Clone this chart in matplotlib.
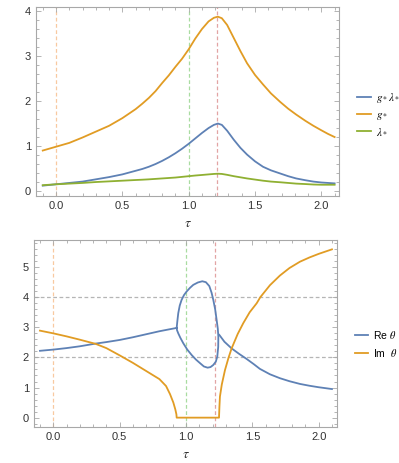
import matplotlib
matplotlib.use('Agg')
import matplotlib.pyplot as plt
from matplotlib.ticker import MultipleLocator

# top panel: fixed point couplings vs tau
tau_top = [-0.1, 0.0, 0.1, 0.2, 0.3, 0.4, 0.5, 0.6, 0.65, 0.7, 0.75, 0.8, 0.85, 0.9, 0.95, 1.0, 1.05, 1.1, 1.15, 1.19,
           1.22, 1.25, 1.29, 1.34, 1.39, 1.44, 1.5, 1.56, 1.62, 1.69, 1.75, 1.81, 1.88, 1.94, 2.0, 2.05, 2.1]
g_star = [0.90, 0.985, 1.07, 1.19, 1.32, 1.45, 1.62, 1.82, 1.94, 2.07, 2.22, 2.40, 2.57, 2.76, 2.94, 3.15, 3.39, 3.60, 3.77, 3.85,
          3.875, 3.84, 3.69, 3.40, 3.11, 2.84, 2.58, 2.37, 2.17, 1.98, 1.83, 1.70, 1.56, 1.45, 1.35, 1.27, 1.20]
gl_star = [0.12, 0.15, 0.18, 0.21, 0.26, 0.31, 0.37, 0.45, 0.49, 0.54, 0.60, 0.67, 0.75, 0.84, 0.94, 1.05, 1.17, 1.29, 1.40, 1.47,
           1.50, 1.47, 1.34, 1.14, 0.96, 0.81, 0.66, 0.54, 0.46, 0.39, 0.33, 0.28, 0.24, 0.21, 0.19, 0.18, 0.17]
l_star = [0.13, 0.15, 0.165, 0.18, 0.20, 0.215, 0.23, 0.245, 0.252, 0.26, 0.27, 0.28, 0.29, 0.30, 0.315, 0.33, 0.345, 0.357, 0.37, 0.38,
          0.385, 0.38, 0.36, 0.33, 0.305, 0.28, 0.255, 0.23, 0.21, 0.195, 0.18, 0.165, 0.155, 0.145, 0.14, 0.14, 0.14]

# bottom panel: theta
re_left_x = [-0.1, 0.0, 0.1, 0.2, 0.32, 0.4, 0.5, 0.6, 0.7, 0.8, 0.87, 0.93]
re_left_y = [2.22, 2.26, 2.31, 2.37, 2.46, 2.51, 2.58, 2.67, 2.77, 2.87, 2.93, 2.98]
loop_x = [0.93, 0.935, 0.942, 0.953, 0.967, 0.985, 1.005, 1.03, 1.055, 1.09, 1.123, 1.15, 1.176, 1.193, 1.206,
          1.22, 1.231, 1.24, 1.244, 1.243, 1.236, 1.225, 1.206, 1.185, 1.163, 1.135, 1.106, 1.075, 1.043, 1.01,
          0.98, 0.958, 0.942, 0.933, 0.93]
loop_y = [2.98, 3.2, 3.47, 3.72, 3.91, 4.07, 4.19, 4.31, 4.41, 4.49, 4.53, 4.50, 4.37, 4.15, 3.91,
          3.6, 3.25, 2.95, 2.69, 2.35, 2.03, 1.86, 1.75, 1.68, 1.66, 1.70, 1.81, 1.93, 2.08, 2.26,
          2.47, 2.65, 2.80, 2.90, 2.98]
re_right_x = [1.251, 1.29, 1.344, 1.40, 1.457, 1.51, 1.557, 1.633, 1.708, 1.78, 1.859, 1.93, 2.0, 2.1]
re_right_y = [2.75, 2.52, 2.30, 2.12, 1.95, 1.78, 1.62, 1.44, 1.31, 1.21, 1.12, 1.06, 1.01, 0.95]

im_x = [-0.1, 0.0, 0.1, 0.2, 0.32, 0.4, 0.5, 0.6, 0.7, 0.8, 0.85, 0.88, 0.905, 0.92, 0.928, 0.93,
        1.249, 1.252, 1.256, 1.27, 1.294, 1.32, 1.344, 1.39, 1.432, 1.48, 1.533, 1.56, 1.633, 1.708,
        1.78, 1.859, 1.93, 2.0, 2.1]
im_y = [2.89, 2.80, 2.70, 2.59, 2.45, 2.31, 2.07, 1.82, 1.55, 1.28, 1.05, 0.78, 0.50, 0.27, 0.11, 0.0,
        0.0, 0.35, 0.70, 1.10, 1.58, 1.98, 2.30, 2.78, 3.14, 3.50, 3.80, 4.0, 4.40, 4.72,
        4.97, 5.18, 5.32, 5.44, 5.59]

tau_marks = [0.0, 1.0, 1.2165]
mark_colors = ['#f8c9a0', '#a9dca0', '#e2a4a4']
theta_grid = [2, 4]

BLUE = '#5e81b5'
ORANGE = '#e19c24'
GREEN = '#8fb032'
FRAME = '#a8a8a8'

plt.rcParams['mathtext.fontset'] = 'stix'
plt.rcParams['font.family'] = 'Liberation Sans'

fig = plt.figure(figsize=(3.99, 4.63), dpi=100)
ax1 = fig.add_axes([0.0902, 0.5767, 0.7594, 0.4082])
ax2 = fig.add_axes([0.0852, 0.0778, 0.7594, 0.4038])


def style(ax):
    for s in ax.spines.values():
        s.set_color(FRAME)
        s.set_linewidth(0.8)
    ax.tick_params(which='both', direction='in', top=True, right=True, colors=FRAME,
                   labelcolor='#333333', labelsize=8, width=0.6)
    ax.tick_params(which='major', length=3.5)
    ax.tick_params(which='minor', length=2)
    ax.xaxis.set_major_locator(MultipleLocator(0.5))
    ax.xaxis.set_minor_locator(MultipleLocator(0.1))
    ax.yaxis.set_major_locator(MultipleLocator(1))
    ax.yaxis.set_minor_locator(MultipleLocator(0.2))
    ax.xaxis.set_major_formatter(plt.FuncFormatter(lambda v, p: '%.1f' % v))
    ax.yaxis.set_major_formatter(plt.FuncFormatter(lambda v, p: '%d' % round(v)))
    for x, c in zip(tau_marks, mark_colors):
        ax.axvline(x, color=c, lw=0.9, ls=(0, (3, 2)), zorder=1)
    ax.set_xlabel(r'$\tau$', fontsize=10, color='#333333', labelpad=4)


style(ax1)
ax1.plot(tau_top, gl_star, color=BLUE, lw=1.3, label=r'$g_*\lambda_*$')
ax1.plot(tau_top, g_star, color=ORANGE, lw=1.3, label=r'$g_*$')
ax1.plot(tau_top, l_star, color=GREEN, lw=1.3, label=r'$\lambda_*$')
ax1.set_xlim(-0.151, 2.133)
ax1.set_ylim(-0.11, 4.09)
ax1.legend(loc='center left', bbox_to_anchor=(1.059, 0.434), frameon=False, fontsize=8,
           handlelength=1.3, handletextpad=0.45, labelspacing=0.45, borderpad=0, borderaxespad=0)

style(ax2)
for y in theta_grid:
    ax2.axhline(y, color='#b5b5b5', lw=0.9, ls=(0, (3, 2)), zorder=1)
ax2.plot(re_left_x, re_left_y, color=BLUE, lw=1.3, label=r'Re $\theta$')
ax2.plot(loop_x, loop_y, color=BLUE, lw=1.3)
ax2.plot(re_right_x, re_right_y, color=BLUE, lw=1.3)
ax2.plot(im_x, im_y, color=ORANGE, lw=1.3, label=r'Im  $\theta$')
ax2.set_xlim(-0.145, 2.138)
ax2.set_ylim(-0.31, 5.9)
ax2.legend(loc='center left', bbox_to_anchor=(1.059, 0.444), frameon=False, fontsize=7.5,
           handlelength=1.3, handletextpad=0.45, labelspacing=0.55, borderpad=0, borderaxespad=0)

fig.savefig('out.png', dpi=100)
